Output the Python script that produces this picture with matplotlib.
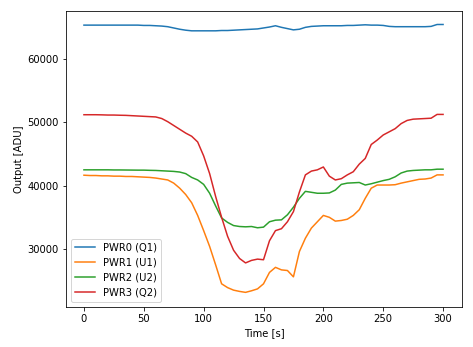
import numpy as np
import matplotlib
matplotlib.use("Agg")
import matplotlib.pyplot as plt

# readings every 5 s
t = np.arange(0, 301, 5)

pwr0 = [65350, 65350, 65350, 65350, 65350, 65350, 65350, 65350, 65350, 65350,
        65300, 65300, 65250, 65200, 65100, 64900, 64700, 64550, 64450, 64450,
        64450, 64450, 64450, 64500, 64500, 64550, 64600, 64650, 64700, 64750,
        64900, 65050, 65250, 65000, 64800, 64600, 64700, 65000, 65150, 65200,
        65250, 65250, 65250, 65250, 65300, 65300, 65350, 65400, 65350, 65350,
        65300, 65150, 65100, 65100, 65100, 65100, 65100, 65100, 65150, 65450,
        65450]
pwr1 = [41650, 41600, 41600, 41550, 41550, 41500, 41500, 41450, 41450, 41400,
        41350, 41300, 41200, 41050, 40900, 40400, 39600, 38600, 37300, 35300,
        32900, 30400, 27500, 24500, 23900, 23500, 23300, 23150, 23400, 23700,
        24500, 26300, 27100, 26700, 26600, 25600, 29600, 31700, 33300, 34300,
        35300, 35000, 34400, 34500, 34700, 35300, 36200, 38000, 39600, 40100,
        40100, 40100, 40150, 40400, 40600, 40800, 41000, 41050, 41200, 41700,
        41700]
pwr2 = [42500, 42500, 42500, 42500, 42500, 42480, 42480, 42470, 42460, 42450,
        42450, 42420, 42400, 42350, 42300, 42250, 42150, 41900, 41300, 40900,
        40200, 38800, 36800, 34900, 34200, 33700, 33550, 33500, 33550, 33350,
        33450, 34300, 34550, 34600, 35400, 36600, 38000, 39100, 38950, 38800,
        38800, 38850, 39300, 40200, 40400, 40450, 40500, 40100, 40300, 40550,
        40800, 41000, 41400, 42000, 42300, 42400, 42450, 42500, 42500, 42600,
        42600]
pwr3 = [51200, 51200, 51200, 51180, 51150, 51150, 51120, 51100, 51050, 51000,
        50950, 50900, 50850, 50600, 50100, 49500, 48900, 48300, 47800, 46900,
        44700, 41900, 38300, 35000, 32000, 29800, 28500, 27800, 28200, 28400,
        28300, 31300, 32900, 33200, 34300, 35900, 39000, 41700, 42300, 42500,
        42950, 41500, 40900, 41100, 41700, 42200, 43400, 44300, 46500, 47200,
        48000, 48500, 49000, 49800, 50300, 50500, 50550, 50600, 50650, 51250,
        51250]
labels = ["PWR0 (Q1)", "PWR1 (U1)", "PWR2 (U2)", "PWR3 (Q2)"]

fig = plt.figure(figsize=(473/72, 347/72), dpi=72)
ax = fig.add_axes([0.1395, 0.1153, 0.8372, 0.853])
for y, lab in zip([pwr0, pwr1, pwr2, pwr3], labels):
    ax.plot(t, y, label=lab)
ax.set_xlim(-15, 315.8)
ax.set_ylim(20840, 67580)
ax.set_xticks(np.arange(0, 301, 50))
ax.set_yticks([30000, 40000, 50000, 60000])
ax.set_xlabel("Time [s]")
ax.set_ylabel("Output [ADU]")
ax.legend(loc="lower left")
fig.savefig("out.png", dpi=72)
